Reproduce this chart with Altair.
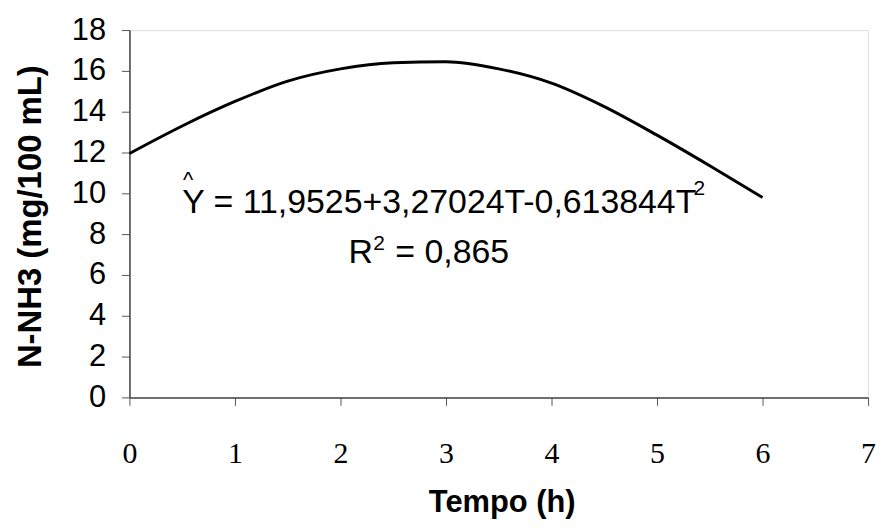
import altair as alt
import pandas as pd

# Curve values
tempo = [0, 0.5, 1, 1.5, 2, 2.5, 3, 3.5, 4, 4.5, 5, 5.5, 6]
nnh3 = [11.95, 13.3, 14.5, 15.5, 16.1, 16.4, 16.45, 16.1, 15.4, 14.25, 12.85, 11.35, 9.8]

x_ticks = [0, 1, 2, 3, 4, 5, 6, 7]
y_ticks = [0, 2, 4, 6, 8, 10, 12, 14, 16, 18]

# Annotation texts (main text, superscripts, hat)
ann_text = ["Y = 11,9525+3,27024T-0,613844T", "R", "= 0,865"]
ann_T = [0.5, 2.075, 2.52]
ann_N = [9.02, 6.59, 6.59]
sup_text = ["2", "2"]
sup_T = [5.345, 2.31]
sup_N = [9.90, 7.22]
hat_text = ["^"]
hat_T = [0.557]
hat_N = [10.29]

curve = pd.DataFrame({"T": tempo, "N": nnh3})

x_scale = alt.Scale(domain=[0, 7], nice=False, zero=False)
y_scale = alt.Scale(domain=[0, 18], nice=False)

line = alt.Chart(curve).mark_line(color="black", strokeWidth=3, interpolate="monotone").encode(
    x=alt.X("T:Q", scale=x_scale,
            axis=alt.Axis(values=x_ticks, format="d", title="Tempo (h)", grid=False,
                          labelFont="Liberation Serif", labelFontSize=30, labelColor="black",
                          labelBaseline="alphabetic", labelPadding=57, labelFlush=False,
                          tickSize=8, tickColor="#555", tickWidth=1,
                          domainColor="#444", domainWidth=1.5,
                          titleFont="Liberation Sans", titleFontSize=31, titleFontWeight="bold",
                          titleColor="black", titleX=374, titleY=115,
                          titleBaseline="alphabetic", titleAlign="center")),
    y=alt.Y("N:Q", scale=y_scale,
            axis=alt.Axis(values=y_ticks, format="d", title="N-NH3 (mg/100 mL)", grid=False,
                          labelFont="Liberation Sans", labelFontSize=31, labelColor="black",
                          labelPadding=16, labelFlush=False, labelBaseline="middle",
                          tickSize=8, tickColor="#555", tickWidth=1,
                          domainColor="#444", domainWidth=1.5,
                          titleFont="Liberation Sans", titleFontSize=33, titleFontWeight="bold",
                          titleColor="black", titleAngle=-90, titleX=-89, titleY=187,
                          titleBaseline="alphabetic", titleAlign="center")),
)

ann_df = pd.DataFrame({"T": ann_T, "N": ann_N, "txt": ann_text})
sup_df = pd.DataFrame({"T": sup_T, "N": sup_N, "txt": sup_text})
hat_df = pd.DataFrame({"T": hat_T, "N": hat_N, "txt": hat_text})

ann = alt.Chart(ann_df).mark_text(font="Liberation Sans", fontSize=34, align="left",
                                  baseline="alphabetic", color="black").encode(
    x=alt.X("T:Q", scale=x_scale), y=alt.Y("N:Q", scale=y_scale), text="txt:N")
sup = alt.Chart(sup_df).mark_text(font="Liberation Sans", fontSize=21, align="left",
                                  baseline="alphabetic", color="black").encode(
    x=alt.X("T:Q", scale=x_scale), y=alt.Y("N:Q", scale=y_scale), text="txt:N")
hat = alt.Chart(hat_df).mark_text(font="Liberation Sans", fontSize=22, align="center",
                                  baseline="alphabetic", color="black").encode(
    x=alt.X("T:Q", scale=x_scale), y=alt.Y("N:Q", scale=y_scale), text="txt:N")

chart = (line + ann + sup + hat).properties(
    width=742, height=369,
    autosize=alt.AutoSizeParams(type="none"),
    padding={"left": 122, "top": 21, "right": 11, "bottom": 122},
).configure_view(stroke=None).configure(background="white")

chart.save("out.html", embed_options={"renderer": "svg", "actions": False})
